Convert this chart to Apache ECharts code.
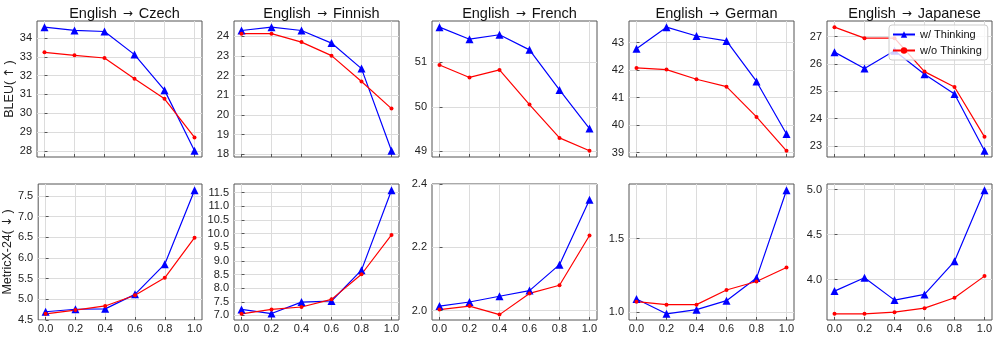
<!DOCTYPE html>
<html>
<head>
<meta charset="utf-8">
<script src="https://cdn.jsdelivr.net/npm/echarts@6/dist/echarts.min.js"></script>
<style>
  html, body { margin: 0; padding: 0; background: #fff; }
  #chart { width: 996px; height: 337px; }
</style>
</head>
<body>
<div id="chart"></div>
<script>
// ratio values on the x axis
var ratios = [0.0, 0.2, 0.4, 0.6, 0.8, 1.0];
var targets = ['Czech', 'Finnish', 'French', 'German', 'Japanese'];

// BLEU (higher is better), one row per target language
var bleuWith = [
  [34.58, 34.41, 34.35, 33.12, 31.23, 28.00],
  [24.30, 24.47, 24.30, 23.66, 22.36, 18.17],
  [51.79, 51.52, 51.62, 51.28, 50.38, 49.51],
  [42.78, 43.56, 43.24, 43.06, 41.59, 39.68],
  [26.43, 25.83, 26.48, 25.62, 24.90, 22.83]
];
var bleuWithout = [
  [33.24, 33.08, 32.94, 31.83, 30.77, 28.71],
  [24.14, 24.14, 23.71, 23.02, 21.70, 20.32],
  [50.94, 50.66, 50.83, 50.05, 49.30, 49.01],
  [42.08, 42.02, 41.67, 41.40, 40.30, 39.07],
  [27.34, 26.94, 26.94, 25.72, 25.16, 23.34]
];

// MetricX-24 (lower is better)
var metricWith = [
  [4.70, 4.76, 4.77, 5.12, 5.85, 7.64],
  [7.22, 7.07, 7.49, 7.53, 8.66, 11.59],
  [2.014, 2.027, 2.045, 2.063, 2.145, 2.350],
  [1.090, 0.990, 1.018, 1.079, 1.232, 1.827],
  [3.874, 4.022, 3.774, 3.837, 4.204, 4.993]
];
var metricWithout = [
  [4.65, 4.74, 4.84, 5.10, 5.52, 6.49],
  [7.06, 7.22, 7.31, 7.59, 8.51, 9.95],
  [2.003, 2.014, 1.987, 2.054, 2.080, 2.237],
  [1.072, 1.052, 1.052, 1.151, 1.209, 1.304],
  [3.622, 3.622, 3.640, 3.685, 3.800, 4.040]
];

// tick steps per panel
var bleuStep = [1, 1, 1, 1, 1];
var metricStep = [0.5, 0.5, 0.2, 0.5, 0.5];

var chart = echarts.init(document.getElementById('chart'), null, {renderer: 'canvas'});

var FONT = '"Liberation Sans", Arial, "DejaVu Sans", sans-serif';
var lefts = [37, 234, 432, 629, 827];
var W = 165, H = 136;
var tops = [21, 184];

function pair(arr) {
  return arr.map(function (v, i) { return [ratios[i], v]; });
}

// matplotlib style 5% margins
function limits(a, b) {
  var all = a.concat(b);
  var lo = Math.min.apply(null, all), hi = Math.max.apply(null, all);
  var pad = (hi - lo) * 0.05;
  return [lo - pad, hi + pad];
}

// tick values inside [lo, hi]
function ticksIn(lo, hi, step) {
  var out = [];
  for (var k = Math.ceil(lo / step - 1e-6); k * step <= hi + 1e-6; k++) {
    out.push(+(k * step).toFixed(6));
  }
  return out;
}

var grids = [], xAxes = [], yAxes = [], series = [], titles = [];
var xTicks = ticksIn(0, 1, 0.2);

for (var row = 0; row < 2; row++) {
  for (var c = 0; c < 5; c++) {
    var idx = row * 5 + c;
    var w = row === 0 ? bleuWith[c] : metricWith[c];
    var wo = row === 0 ? bleuWithout[c] : metricWithout[c];
    var step = row === 0 ? bleuStep[c] : metricStep[c];
    var lim = limits(w, wo);
    // axis limits set by hand in the original
    if (row === 1 && c === 0) lim[0] = 4.5;
    if (row === 1 && c === 2) lim = [1.97, 2.4];
    var yTicks = ticksIn(lim[0], lim[1], step);

    grids.push({
      left: lefts[c], top: tops[row], width: W, height: H,
      show: true, borderColor: '#555', borderWidth: 1, backgroundColor: 'transparent'
    });

    xAxes.push({
      type: 'value', gridIndex: idx, min: -0.05, max: 1.05,
      minInterval: 0.2, maxInterval: 0.2,
      axisLine: {show: false},
      axisTick: {show: true, inside: true, length: 3, customValues: xTicks,
        lineStyle: {color: '#555'}},
      axisLabel: {
        show: row === 1, margin: 3, color: '#222', fontSize: 11, fontFamily: FONT,
        customValues: xTicks,
        formatter: function (v) { return (+v).toFixed(1); }
      },
      splitLine: {show: true, lineStyle: {color: '#dcdcdc', width: 1}}
    });

    (function (row) {
      yAxes.push({
        type: 'value', gridIndex: idx, min: lim[0], max: lim[1],
        minInterval: step, maxInterval: step,
        name: c === 0 ? (row === 0 ? 'BLEU({a|↑})' : 'MetricX-24({a|↓})') : '',
        nameLocation: 'middle', nameGap: row === 0 ? 19 : 21,
        nameTextStyle: {
          fontSize: 12.5, fontFamily: FONT, color: '#222',
          rich: {a: {fontSize: 12.5, fontFamily: '"DejaVu Sans"', color: '#222', padding: [0, 3]}}
        },
        axisLine: {show: false},
        axisTick: {show: true, inside: true, length: 3, customValues: yTicks,
          lineStyle: {color: '#555'}},
        axisLabel: {
          margin: 5, color: '#222', fontSize: 11, fontFamily: FONT,
          customValues: yTicks,
          formatter: function (v) {
            return row === 0 ? (+v).toFixed(0) : (+v).toFixed(1);
          }
        },
        splitLine: {show: true, lineStyle: {color: '#dcdcdc', width: 1}}
      });
    })(row);

    series.push({
      name: 'w/ Thinking', type: 'line', xAxisIndex: idx, yAxisIndex: idx,
      data: pair(w), symbol: 'triangle', symbolSize: 8,
      lineStyle: {color: '#0000ff', width: 1.2},
      itemStyle: {color: '#0000ff'}, animation: false
    });
    series.push({
      name: 'w/o Thinking', type: 'line', xAxisIndex: idx, yAxisIndex: idx,
      data: pair(wo), symbol: 'circle', symbolSize: 4,
      lineStyle: {color: '#ff0000', width: 1.2},
      itemStyle: {color: '#ff0000'}, animation: false
    });

    if (row === 0) {
      titles.push({
        text: 'English{a|→}' + targets[c],
        left: lefts[c] + W / 2, top: 1, textAlign: 'center',
        textStyle: {
          fontSize: 14.5, fontWeight: 'normal', color: '#111', fontFamily: FONT,
          rich: {a: {fontSize: 12, fontFamily: '"DejaVu Sans"', color: '#111', padding: [0, 6]}}
        }
      });
    }
  }
}

var option = {
  backgroundColor: '#fff',
  animation: false,
  title: titles,
  legend: {
    data: ['w/ Thinking', 'w/o Thinking'],
    orient: 'vertical', left: 889, top: 25,
    itemWidth: 22, itemHeight: 8, itemGap: 5,
    padding: [4, 6, 4, 3],
    backgroundColor: 'rgba(255,255,255,0.8)',
    borderColor: '#ccc', borderWidth: 1, borderRadius: 3,
    textStyle: {fontSize: 11, fontFamily: FONT, color: '#111'}
  },
  grid: grids,
  xAxis: xAxes,
  yAxis: yAxes,
  series: series
};

chart.setOption(option);
window.addEventListener('resize', function () {
  chart.resize();
});
</script>
</body>
</html>
